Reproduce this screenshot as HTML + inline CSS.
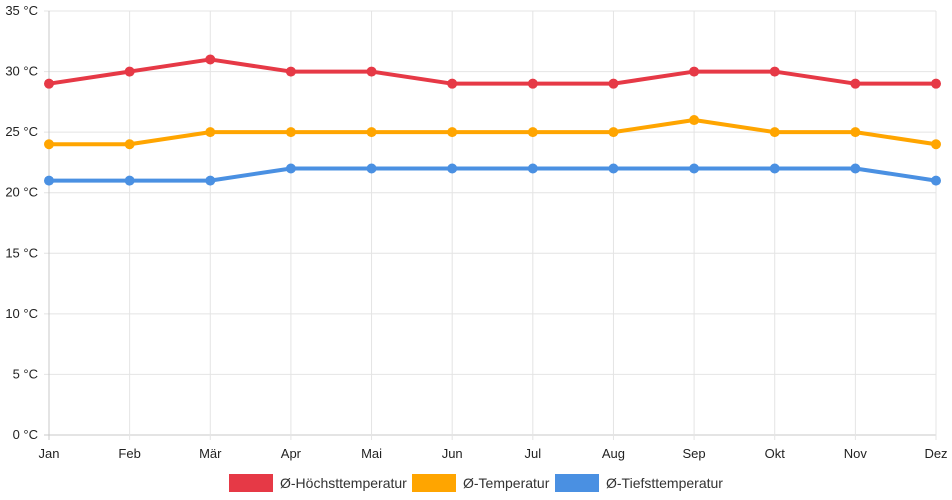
<!DOCTYPE html>
<html><head><meta charset="utf-8"><style>
html,body{margin:0;padding:0;background:#fff;}
svg{display:block;font-family:"Liberation Sans",sans-serif;}
</style></head><body>
<svg id="chart" width="952" height="500" xmlns="http://www.w3.org/2000/svg">
<g id="grid"></g>
<g id="axes"></g>
<g id="series"></g>
<g id="legend"></g>
</svg>
<script>
const months = ["Jan","Feb","Mär","Apr","Mai","Jun","Jul","Aug","Sep","Okt","Nov","Dez"];
const maxTemp = [29,30,31,30,30,29,29,29,30,30,29,29];
const avgTemp = [24,24,25,25,25,25,25,25,26,25,25,24];
const minTemp = [21,21,21,22,22,22,22,22,22,22,22,21];
const yTicks = [0,5,10,15,20,25,30,35];
const seriesNames = ["Ø-Höchsttemperatur","Ø-Temperatur","Ø-Tiefsttemperatur"];

const NS="http://www.w3.org/2000/svg";
const X0=49,X1=936,Y0=435,Y1=11;
const x=i=>X0+(X1-X0)*i/(months.length-1);
const y=v=>Y0-(Y0-Y1)*v/35;
function mk(t,a,p){const e=document.createElementNS(NS,t);for(const k in a)e.setAttribute(k,a[k]);p.appendChild(e);return e;}
const grid=document.getElementById('grid'),axes=document.getElementById('axes'),ser=document.getElementById('series'),leg=document.getElementById('legend');
yTicks.forEach(v=>{
  const l=mk('line',{x1:X0-5,x2:X1,y1:y(v),y2:y(v),stroke:v===0?'#c8c8c8':'#e4e4e4','stroke-width':1},grid);
  
  
  const t=mk('text',{x:X0-11,y:y(v)+4,'text-anchor':'end','font-size':13,fill:'#222'},axes);
  t.textContent=v+' °C';
  
  
});
months.forEach((m,i)=>{
  const l=mk('line',{x1:x(i),x2:x(i),y1:Y1,y2:Y0+5,stroke:i===0?'#c8c8c8':'#e4e4e4','stroke-width':1},grid);
  
  
  const t=mk('text',{x:x(i),y:Y0+23,'text-anchor':'middle','font-size':13,fill:'#222'},axes);
  t.textContent=m;
  
  
});
const data=[maxTemp,avgTemp,minTemp];
const colors=["#e63946","#ffa500","#4a90e2"];
const names=["max-temp","avg-temp","min-temp"];
data.forEach((d,s)=>{
  const g=mk('g',{},ser);
  
  
  const p=mk('polyline',{points:d.map((v,i)=>x(i)+','+y(v)).join(' '),fill:'none',stroke:colors[s],'stroke-width':4,'stroke-linejoin':'round'},g);
  
  
  d.forEach((v,i)=>{
    const c=mk('circle',{cx:x(i),cy:y(v),r:5,fill:colors[s]},g);
    
    
  });
});
const lx=[229,412,555];
seriesNames.forEach((n,s)=>{
  const g=mk('g',{},leg);
  
  
  mk('rect',{x:lx[s],y:474,width:44,height:18,fill:colors[s]},g);
  const t=mk('text',{x:lx[s]+51,y:488,'font-size':14,fill:'#333'},g);
  t.textContent=n;
});
</script>
</body></html>
